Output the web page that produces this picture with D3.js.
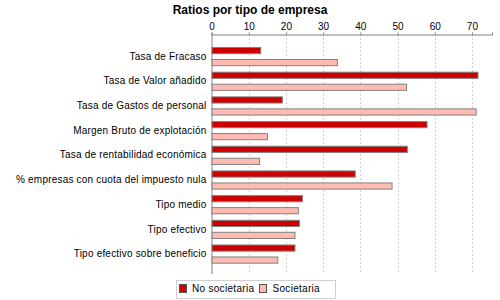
<!DOCTYPE html>
<html>
<head>
<meta charset="utf-8">
<script src="https://cdn.jsdelivr.net/npm/d3@7"></script>
<style>
  body { margin: 0; background: #fff; }
  svg { display: block; font-family: "Liberation Sans", Arial, sans-serif; }
</style>
</head>
<body>
<div id="chart"></div>
<script>
const categories = [
  'Tasa de Fracaso',
  'Tasa de Valor añadido',
  'Tasa de Gastos de personal',
  'Margen Bruto de explotación',
  'Tasa de rentabilidad económica',
  '% empresas con cuota del impuesto nula',
  'Tipo medio',
  'Tipo efectivo',
  'Tipo efectivo sobre beneficio'
]
const seriesNames = ['No societaria', 'Societaria']
const noSocietaria = [13.1, 71.5, 18.9, 57.8, 52.5, 38.5, 24.3, 23.5, 22.3]
const societaria = [33.7, 52.3, 71.0, 14.9, 12.8, 48.4, 23.2, 22.3, 17.7]
const ticks = [0, 10, 20, 30, 40, 50, 60, 70]
const colors = ['#cc0000', '#ffbbb3']

const width = 500, height = 300
const margin = { top: 34, right: 8, bottom: 26, left: 211.5 }

const rows = categories.map((c, i) => ({ cat: c, values: [noSocietaria[i], societaria[i]] }))

const svg = d3.select('#chart').append('svg')
  .attr('width', width)
  .attr('height', height)

svg.append('text')
  .attr('x', 250)
  .attr('y', 14)
  .attr('text-anchor', 'middle')
  .attr('font-size', 12)
  .attr('font-weight', 'bold')
  .text('Ratios por tipo de empresa')

const x = d3.scaleLinear()
  .domain([0, 75.4])
  .range([margin.left, width - margin.right])

const y = d3.scaleBand()
  .domain(categories)
  .range([47, 263])
  .paddingInner(0.25)

const ySub = d3.scaleBand()
  .domain(d3.range(seriesNames.length))
  .range([0, y.bandwidth()])
  .paddingInner(0.5)

const plotBottom = height - margin.bottom

// grid
svg.append('g')
  .selectAll('line')
  .data(ticks.slice(1))
  .join('line')
  .attr('x1', d => Math.round(x(d)) + 0.5)
  .attr('x2', d => Math.round(x(d)) + 0.5)
  .attr('y1', margin.top)
  .attr('y2', plotBottom)
  .attr('stroke', '#d0d0d0')
  .attr('stroke-dasharray', '2,2')

// axis on top
const axis = svg.append('g')
  .attr('transform', `translate(0, ${margin.top + 0.5})`)
  .call(d3.axisTop(x).tickValues(ticks).tickSize(2).tickPadding(3))
axis.select('.domain').attr('stroke', '#808080')
axis.selectAll('.tick line').attr('stroke', '#808080')
axis.selectAll('.tick text')
  .attr('font-family', '"Liberation Sans", Arial, sans-serif')
  .attr('font-size', 10)
  .attr('fill', '#000')

// left axis line
svg.append('line')
  .attr('x1', x(0) + 0.5).attr('x2', x(0) + 0.5)
  .attr('y1', margin.top).attr('y2', plotBottom)
  .attr('stroke', '#808080')

// bars
const groups = svg.append('g')
  .selectAll('g')
  .data(rows)
  .join('g')
  .attr('transform', d => `translate(0, ${y(d.cat)})`)

groups.selectAll('rect')
  .data(d => d.values)
  .join('rect')
  .attr('x', x(0) + 0.5)
  .attr('y', (d, i) => Math.round(ySub(i)) + 0.5)
  .attr('width', d => x(d) - x(0))
  .attr('height', ySub.bandwidth())
  .attr('fill', (d, i) => colors[i])
  .attr('stroke', '#808080')

groups.append('text')
  .attr('x', x(0) - 5)
  .attr('y', y.bandwidth() / 2)
  .attr('dy', '0.35em')
  .attr('text-anchor', 'end')
  .attr('font-size', 10)
  .attr('letter-spacing', 0.2)
  .text(d => d.cat)

// legend
const legend = svg.append('g')
legend.append('rect')
  .attr('x', 176.5).attr('y', 280.5)
  .attr('width', 159).attr('height', 18)
  .attr('fill', '#fff')
  .attr('stroke', '#d0d0d0')

const items = [
  { name: seriesNames[0], color: colors[0], x: 179.5, tx: 192 },
  { name: seriesNames[1], color: colors[1], x: 259.5, tx: 272.5 }
]
items.forEach(it => {
  legend.append('rect')
    .attr('x', it.x).attr('y', 284.5)
    .attr('width', 7).attr('height', 8)
    .attr('fill', it.color)
    .attr('stroke', '#555')
  legend.append('text')
    .attr('x', it.tx).attr('y', 292)
    .attr('font-size', 10)
    .attr('letter-spacing', 0.3)
    .text(it.name)
})
</script>
</body>
</html>
